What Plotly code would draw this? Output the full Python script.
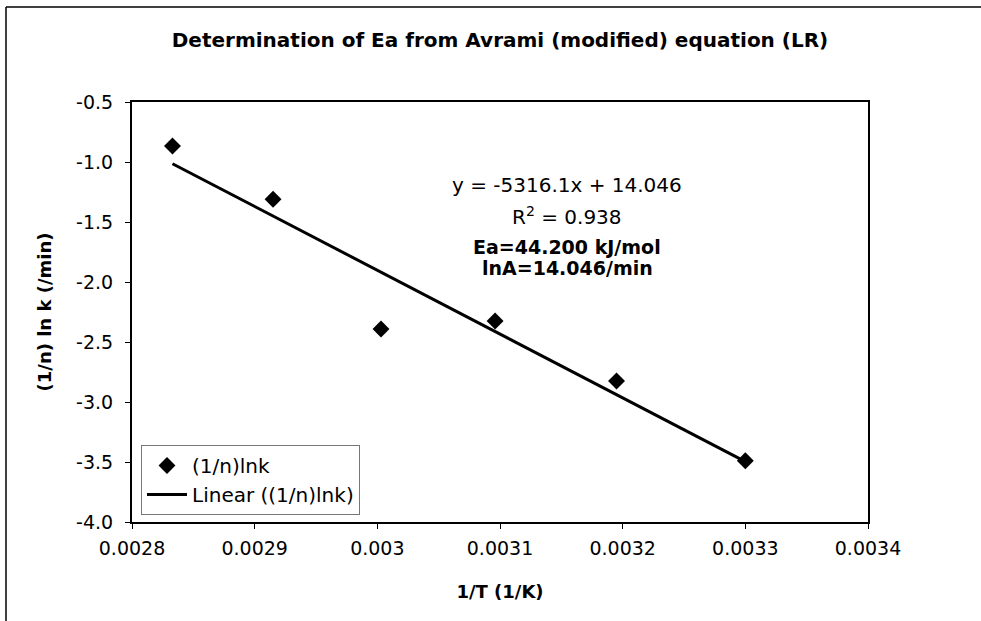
import numpy as np
import plotly.graph_objects as go

# Measured points: 1/T (1/K) and (1/n) ln k (/min)
inv_T = [0.002833, 0.002915, 0.003003, 0.003096, 0.003195, 0.003300]
ln_k_n = [-0.867, -1.311, -2.392, -2.325, -2.825, -3.489]

# Linear regression reported on the chart
slope = -5316.1
intercept = 14.046
r_squared = 0.938
ea_text = "Ea=44.200 kJ/mol"
lna_text = "lnA=14.046/min"

x_ticks = [0.0028, 0.0029, 0.003, 0.0031, 0.0032, 0.0033, 0.0034]
x_tick_text = ["0.0028", "0.0029", "0.003", "0.0031", "0.0032", "0.0033", "0.0034"]
y_ticks = [-0.5, -1.0, -1.5, -2.0, -2.5, -3.0, -3.5, -4.0]
y_tick_text = ["-0.5", "-1.0", "-1.5", "-2.0", "-2.5", "-3.0", "-3.5", "-4.0"]

FONT = "DejaVu Sans, Liberation Sans, Arial, sans-serif"

# plot-area geometry in pixels
W, H = 981, 621
L, R, T, B = 132, 113, 102, 99
pw, ph = W - L - R, H - T - B


def px(x):
    return (x - L) / pw


def py(y):
    return (H - B - y) / ph


fit_x = np.array([min(inv_T), max(inv_T)])
fit_y = slope * fit_x + intercept

fig = go.Figure()
fig.add_trace(go.Scatter(
    x=inv_T, y=ln_k_n, mode="markers", name="(1/n)lnk",
    marker=dict(symbol="diamond", size=13, color="black"),
))
fig.add_trace(go.Scatter(
    x=fit_x, y=fit_y, mode="lines", name="Linear ((1/n)lnk)",
    line=dict(color="black", width=3),
))

axis_common = dict(
    showgrid=False, zeroline=False, showline=True, mirror=True,
    linecolor="black", linewidth=2, ticks="outside", ticklen=5,
    tickcolor="black", tickwidth=1,
    tickfont=dict(family=FONT, size=19, color="black"),
)

fig.update_xaxes(
    range=[0.0028, 0.0034], tickvals=x_ticks, ticktext=x_tick_text,
    ticklabelstandoff=3,
    title=dict(text="<b>1/T (1/K)</b>", font=dict(family=FONT, size=18, color="black"), standoff=28),
    **axis_common,
)
fig.update_yaxes(
    range=[-4.0, -0.5], tickvals=y_ticks, ticktext=y_tick_text,
    ticklabelstandoff=8,
    title=dict(text="<b>(1/n) ln k (/min)</b>", font=dict(family=FONT, size=18, color="black"), standoff=20),
    **axis_common,
)

eq_x = 0.003155
fig.add_annotation(x=eq_x, y=-1.19, xref="x", yref="y", showarrow=False,
                   text=f"y = {slope}x + {intercept:.3f}",
                   font=dict(family=FONT, size=20, color="black"))
fig.add_annotation(x=eq_x, y=-1.45, xref="x", yref="y", showarrow=False,
                   text=f"R<sup>2</sup> = {r_squared}",
                   font=dict(family=FONT, size=20, color="black"))
fig.add_annotation(x=eq_x, y=-1.71, xref="x", yref="y", showarrow=False,
                   text=f"<b>{ea_text}</b>",
                   font=dict(family=FONT, size=19, color="black"))
fig.add_annotation(x=eq_x, y=-1.88, xref="x", yref="y", showarrow=False,
                   text=f"<b>{lna_text}</b>",
                   font=dict(family=FONT, size=19, color="black"))

# chart-area frame (left and top edges)
fig.add_shape(type="line", xref="paper", yref="paper",
              x0=px(6), y0=py(621), x1=px(6), y1=py(7),
              line=dict(color="black", width=1.5))
fig.add_shape(type="line", xref="paper", yref="paper",
              x0=px(6), y0=py(7), x1=px(981), y1=py(7),
              line=dict(color="black", width=1.5))

fig.update_layout(
    width=W, height=H,
    margin=dict(l=L, r=R, t=T, b=B),
    paper_bgcolor="white", plot_bgcolor="white",
    title=dict(text="<b>Determination of Ea from Avrami (modified) equation (LR)</b>",
               x=0.5, xref="paper", xanchor="center", y=1 - 40 / H, yanchor="middle",
               font=dict(family=FONT, size=20, color="black")),
    showlegend=True,
    legend=dict(x=px(141), y=py(445), xanchor="left", yanchor="top",
                bgcolor="white", bordercolor="#777777", borderwidth=1,
                font=dict(family=FONT, size=20, color="black"),
                itemwidth=40, tracegroupgap=0),
)

fig.write_html("out.html")
